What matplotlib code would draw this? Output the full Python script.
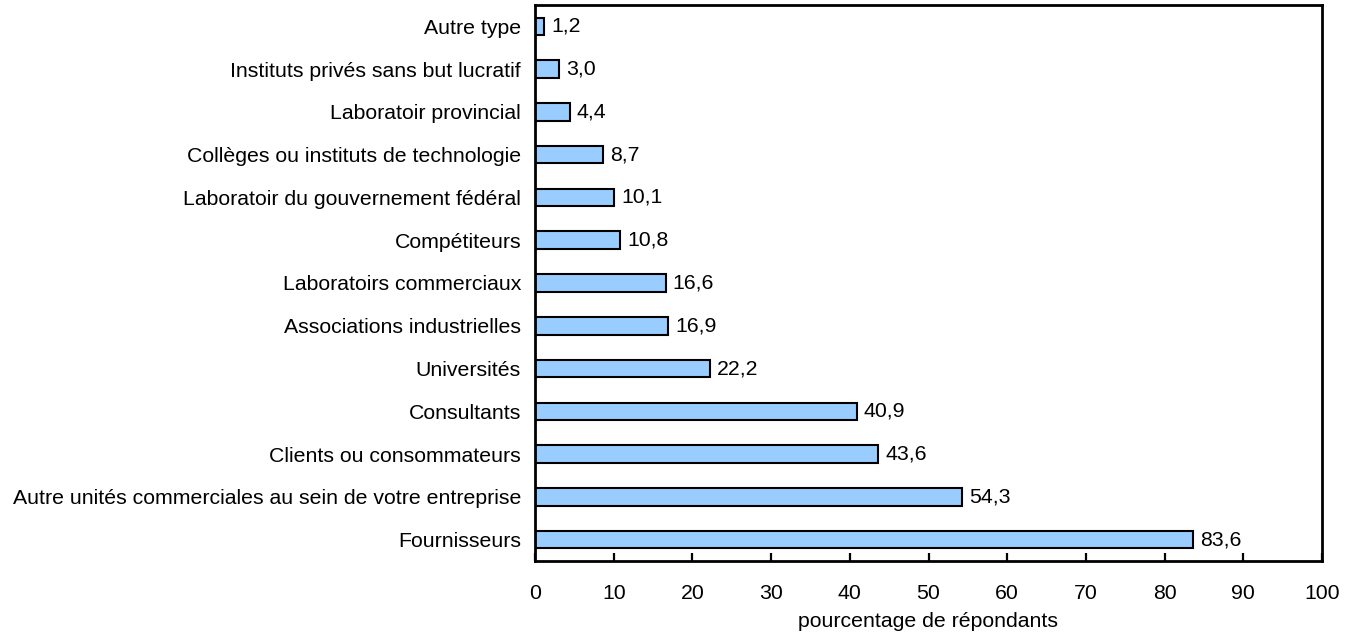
import matplotlib
matplotlib.use("Agg")
import matplotlib.pyplot as plt

categories = [
    "Fournisseurs",
    "Autre unités commerciales au sein de votre entreprise",
    "Clients ou consommateurs",
    "Consultants",
    "Universités",
    "Associations industrielles",
    "Laboratoirs commerciaux",
    "Compétiteurs",
    "Laboratoir du gouvernement fédéral",
    "Collèges ou instituts de technologie",
    "Laboratoir provincial",
    "Instituts privés sans but lucratif",
    "Autre type",
]
values = [83.6, 54.3, 43.6, 40.9, 22.2, 16.9, 16.6, 10.8, 10.1, 8.7, 4.4, 3.0, 1.2]
xticks = [0, 10, 20, 30, 40, 50, 60, 70, 80, 90, 100]
xlabel = "pourcentage de répondants"

plt.rcParams['font.family'] = ['Liberation Sans', 'DejaVu Sans']
fs = 15.3

fig = plt.figure(figsize=(13.54, 6.33), dpi=100)
ax = fig.add_axes([535/1354, 1 - 561/633, (1322 - 535)/1354, (561 - 5)/633])

ypos = list(range(len(categories)))
ax.barh(ypos, values, height=0.41, color="#99CCFF", edgecolor="black", linewidth=1.5)
for y, v in zip(ypos, values):
    ax.text(v + 0.9, y, f"{v:.1f}".replace(".", ","), va="center", ha="left", fontsize=fs)

ax.set_xlim(0, 100)
ax.set_ylim(-0.5, len(categories) - 0.5)
ax.set_yticks(ypos)
ax.set_yticklabels(categories, fontsize=fs)
ax.set_xticks(xticks)
ax.set_xticklabels([str(t) for t in xticks], fontsize=fs)
ax.tick_params(axis="y", length=0, pad=10)
ax.tick_params(axis="x", direction="in", length=6, width=1.6, pad=16.5)
ax.set_xlabel(xlabel, fontsize=fs, labelpad=6.5)
for s in ax.spines.values():
    s.set_linewidth(2.0)

fig.savefig("out.png", dpi=100)
